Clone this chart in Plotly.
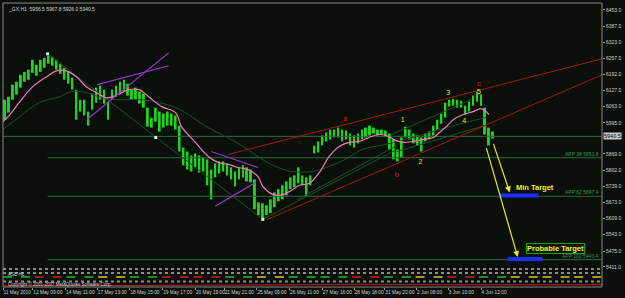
import plotly.graph_objects as go

# ---------------- data ----------------
hi = [6089, 6101, 6150, 6162, 6190, 6202, 6211, 6251, 6231, 6251, 6259, 6267, 6263, 6251, 6235, 6219,
      6202, 6178, 6130, 6089, 6089, 6041, 6114, 6138, 6146, 6130, 6081, 6130, 6146, 6162, 6170, 6154,
      6130, 6138, 6122, 6114, 6057, 6016, 6057, 6041, 6033, 6041, 6033, 6025, 5984, 5895, 5879, 5863,
      5871, 5863, 5855, 5847, 5806, 5831, 5839, 5839, 5831, 5815, 5798, 5815, 5823, 5815, 5806, 5766,
      5673, 5669, 5661, 5685, 5713, 5726, 5742, 5758, 5774, 5782, 5815, 5782, 5774, 5782, 5903, 5920,
      5944, 5956, 5968, 5968, 5976, 5968, 5964, 5952, 5944, 5952, 5968, 5976, 5984, 5976, 5968, 5968,
      5964, 5952, 5928, 5887, 5936, 5980, 5968, 5952, 5944, 5936, 5952, 5960, 5984, 6008, 6033, 6077,
      6089, 6093, 6089, 6085, 6065, 6081, 6106, 6122, 6110, 6057, 5976, 5960]
lo = [6008, 6037, 6089, 6110, 6138, 6162, 6170, 6198, 6186, 6202, 6219, 6235, 6227, 6211, 6194, 6170,
      6154, 6130, 6008, 6041, 6025, 5984, 6049, 6077, 6089, 6073, 6008, 6089, 6101, 6110, 6122, 6106,
      6089, 6089, 6073, 6057, 5980, 5976, 6000, 5960, 5976, 5984, 5984, 5968, 5879, 5823, 5806, 5798,
      5815, 5794, 5798, 5742, 5685, 5774, 5790, 5798, 5782, 5766, 5738, 5766, 5774, 5758, 5754, 5645,
      5621, 5604, 5621, 5629, 5653, 5677, 5685, 5701, 5726, 5734, 5750, 5742, 5697, 5742, 5871, 5875,
      5904, 5920, 5928, 5936, 5936, 5920, 5928, 5904, 5895, 5912, 5928, 5936, 5944, 5952, 5944, 5948,
      5940, 5887, 5847, 5839, 5855, 5936, 5928, 5912, 5904, 5879, 5920, 5928, 5944, 5968, 5992, 6017,
      6061, 6065, 6057, 6057, 6029, 6041, 6065, 6081, 6065, 5948, 5904, 5932]
bars = list(range(len(hi)))

ma_fast_x = [-1.25, 1.25, 3.75, 7, 10.5, 13, 15.5, 18, 20.5, 23, 25.5, 27, 29.5, 31.25, 33.75, 36.25,
             39.5, 43, 44.5, 48, 51.25, 53.75, 56.25, 58.75, 61.25, 63.75, 65, 67.5, 69.25, 71.75, 74.25,
             76.75, 79.25, 81.75, 84.25, 86.75, 89.25, 91.75, 94.25, 96.75, 98, 100.5, 103, 105.5, 108,
             109.5, 111.25, 113, 115.5, 118, 120, 121.25, 122]
ma_fast_y = [5988, 6029, 6081, 6142, 6182, 6206, 6206, 6182, 6142, 6118, 6097, 6101, 6118, 6130, 6130, 6101,
             6061, 6037, 5980, 5916, 5859, 5835, 5827, 5814, 5806, 5778, 5738, 5705, 5701, 5717, 5742,
             5750, 5794, 5859, 5899, 5916, 5920, 5936, 5948, 5940, 5928, 5916, 5920, 5928, 5936,
             5956, 5980, 6008, 6029, 6041, 6053, 6041, 6029]

ma_slow_x = [-0.5, 3.75, 8.75, 13.75, 16.75, 20.5, 23.75, 28, 34.5, 43, 51.25, 58.75, 63.75, 67.5, 72.5,
             77.5, 81.75, 85.75, 90, 95.75, 103.75, 111.25, 121.25]
ma_slow_y = [5968, 6021, 6078, 6101, 6122, 6118, 6101, 6089, 6089, 6057, 5976, 5912, 5859, 5823, 5798,
             5798, 5819, 5847, 5887, 5907, 5940, 5976, 6017]

# trend / channel lines: (x0, y0, x1, y1)
red_lines = [(56.25, 5867, 150.5, 6255), (66.25, 5604, 150.5, 6190)]
purple_lines = [(20.75, 6010, 41.25, 6279), (23.25, 6150, 41.25, 6227),
                (52, 5879, 63.75, 5814), (53, 5657, 63.25, 5754)]
dim_lines = [(10.75, 6275, 65, 5604), (65, 5604, 98.75, 5887), (73.75, 5685, 98.75, 5903),
             (97.5, 5948, 117.5, 6089), (98.75, 5879, 121.75, 5988)]
pivot_x = [10.75, 38, 65]
pivot_y = [6275, 5936, 5604]

last_price = 5940.5
fib_levels = [5853.8, 5697.4, 5440.4]
fib_labels = ["APP 38 5853.8", "APP 62 5697.4", "APP 100 5440.4"]

target_bars = [(124.5, 134.5, 5701), (126.75, 135.5, 5443)]
arrows = [(123, 5916, 127.25, 5713), (121.25, 5899, 129.25, 5451)]

wave_text = ["a", "b", "c", "1", "2", "3", "4", "5"]
wave_x = [85.75, 98.75, 119.5, 100.25, 104.75, 111.75, 115.75, 119.5]
wave_y = [6008, 5782, 6150, 6004, 5835, 6114, 6000, 6118]
wave_col = ["#e01010", "#e01010", "#e01010", "#e8e800", "#e8e800", "#e8e800", "#e8e800", "#e8e800"]

price_ticks = [6453.0, 6387.0, 6323.0, 6257.0, 6192.0, 6127.0, 6063.0, 5995.0, 5869.0, 5802.0,
               5739.0, 5673.0, 5609.0, 5543.0, 5475.0, 5411.0]
time_ticks = [-0.5, 7, 15.25, 23.25, 31.5, 39.75, 48, 55.25, 63.5, 71.75, 80, 88, 95.75, 103.75, 111.75, 120]
time_labels = ["11 May 2010", "12 May 09:00", "14 May 11:00", "17 May 13:00", "18 May 15:00",
               "19 May 17:00", "20 May 19:00", "21 May 21:00", "25 May 09:00", "26 May 11:00",
               "27 May 16:00", "28 May 18:00", "31 May 20:00", "2 Jun 08:00", "3 Jun 10:00", "4 Jun 12:00"]

# indicator sub-window: colour state every 8 bars
ind_state = ["#20c020", "#d02020", "#20c020", "#d0d020", "#20c020", "#d02020", "#d02020", "#20c020",
             "#d0d020", "#20c020", "#20c020", "#d02020", "#20c020", "#d0d020", "#d02020", "#20c020",
             "#d0d020", "#d0d020", "#d0d020"]
ind_red_x = [-0.5, 30, 60, 90, 110, 150.5]
ind_red_y = [1.2, 1.4, 2.0, 2.8, 2.4, 2.4]

# ---------------- figure ----------------
BG = "#0a0f0a"
DIM = "#2a6a3a"
fig = go.Figure()

fig.add_trace(go.Scatter(x=[-0.5, 150.5], y=[last_price, last_price], mode="lines",
                         line=dict(color=DIM, width=1), hoverinfo="skip", showlegend=False))
for lv in fib_levels:
    fig.add_trace(go.Scatter(x=[10.75, 150.5], y=[lv, lv], mode="lines",
                             line=dict(color=DIM, width=1), hoverinfo="skip", showlegend=False))

for (x0, y0, x1, y1) in dim_lines:
    fig.add_trace(go.Scatter(x=[x0, x1], y=[y0, y1], mode="lines",
                             line=dict(color="#1f4f2a", width=1), showlegend=False))
fig.add_trace(go.Scatter(x=ma_slow_x, y=ma_slow_y, mode="lines",
                         line=dict(color="#1f4f2a", width=1, shape="spline"), showlegend=False))

fig.add_trace(go.Bar(x=bars, y=[h - l for h, l in zip(hi, lo)], base=lo, width=0.5,
                     marker=dict(color="#1ed41e", line=dict(width=0)), showlegend=False))

fig.add_trace(go.Scatter(x=ma_fast_x, y=ma_fast_y, mode="lines",
                         line=dict(color="#f07ac0", width=1.2, shape="spline"), showlegend=False))

for (x0, y0, x1, y1) in red_lines:
    fig.add_trace(go.Scatter(x=[x0, x1], y=[y0, y1], mode="lines",
                             line=dict(color="#a01818", width=1), showlegend=False))
for (x0, y0, x1, y1) in purple_lines:
    fig.add_trace(go.Scatter(x=[x0, x1], y=[y0, y1], mode="lines",
                             line=dict(color="#9a34d0", width=1.2), showlegend=False))

fig.add_trace(go.Scatter(x=pivot_x, y=pivot_y, mode="markers",
                         marker=dict(symbol="square", size=3, color="#d8f0d8"), showlegend=False))

for (x0, x1, yv) in target_bars:
    fig.add_trace(go.Scatter(x=[x0, x1], y=[yv, yv], mode="lines",
                             line=dict(color="#1830ff", width=4), showlegend=False))

fig.add_trace(go.Scatter(x=wave_x, y=wave_y, mode="text", text=wave_text,
                         textfont=dict(color=wave_col, size=7, family="Arial Black, Liberation Sans"),
                         showlegend=False))

# indicator sub-window
for v in [18.6, 14.4, 5.8]:
    fig.add_trace(go.Scatter(x=[-0.5, 150.5], y=[v, v], mode="lines", yaxis="y2",
                             line=dict(color="#8a8a8a", width=2, dash="dot"), showlegend=False))
for k, c in enumerate(ind_state):
    fig.add_trace(go.Scatter(x=[k * 8 - 0.5, k * 8 + 7.5], y=[10.3, 10.3], mode="lines", yaxis="y2",
                             line=dict(color=c, width=1.5, dash="dash"), showlegend=False))
fig.add_trace(go.Scatter(x=ind_red_x, y=ind_red_y, mode="lines", yaxis="y2",
                         line=dict(color="#c02020", width=1), showlegend=False))

annotations = []
for (x0, y0, x1, y1) in arrows:
    annotations.append(dict(x=x1, y=y1, ax=x0, ay=y0, xref="x", yref="y", axref="x", ayref="y",
                            showarrow=True, arrowcolor="#e8e820", arrowwidth=1.2, arrowhead=2,
                            arrowsize=1, text=""))
annotations.append(dict(x=128.25, y=5734, xref="x", yref="y", text="<b>Min Target</b>", showarrow=False,
                        xanchor="left", font=dict(color="#f0f020", size=7.5, family="Liberation Sans")))
annotations.append(dict(x=138.75, y=5487, xref="x", yref="y", text="<b>Probable Target</b>", showarrow=False,
                        font=dict(color="#f0f020", size=7.5, family="Liberation Sans"),
                        bordercolor="#10a010", borderwidth=1, borderpad=0, bgcolor="#0c180c"))
for lv, lab in zip(fib_levels, fib_labels):
    annotations.append(dict(x=150.3, y=lv, xref="x", yref="y", text=lab, showarrow=False,
                            xanchor="right", yanchor="bottom", yshift=-1,
                            font=dict(color="#2e9a4a", size=5, family="Liberation Sans")))
annotations.append(dict(x=1.0, y=last_price, xref="paper", yref="y", text="5940.5", showarrow=False,
                        xanchor="left", xshift=1, bgcolor="#c8c8c8",
                        font=dict(color="#000000", size=5.5, family="Liberation Sans"), borderpad=0))
annotations.append(dict(x=0.005, y=0.995, xref="paper", yref="paper", text="_GX,H1  5956.5 5967.8 5926.0 5940.5",
                        showarrow=False, xanchor="left", yanchor="top",
                        font=dict(color="#d8d8d8", size=5, family="Liberation Sans")))
annotations.append(dict(x=0.005, y=12.5, xref="paper", yref="y2", text="ASC-HL",
                        showarrow=False, xanchor="left", yanchor="middle",
                        font=dict(color="#d8d8d8", size=4.5, family="Liberation Sans")))
annotations.append(dict(x=0.005, y=3.5, xref="paper", yref="y2",
                        text="Copyright © 2001-2007 MetaQuotes Software Corp.",
                        showarrow=False, xanchor="left", yanchor="middle",
                        font=dict(color="#d8d8d8", size=4.5, family="Liberation Sans")))

fig.update_layout(
    width=625, height=298,
    margin=dict(l=3, r=18, t=3, b=10),
    paper_bgcolor=BG, plot_bgcolor=BG,
    showlegend=False,
    barmode="overlay",
    annotations=annotations,
    xaxis=dict(range=[-0.5, 150.5], domain=[0, 1], anchor="y2", showgrid=False, zeroline=False,
               tickvals=time_ticks, ticktext=time_labels, ticklabelposition="outside right",
               tickangle=0, ticks="outside", ticklen=2, tickcolor="#a0a0a0",
               tickfont=dict(color="#d0d0d0", size=4.8, family="Liberation Sans")),
    yaxis=dict(range=[5410.4, 6481.3], domain=[0.0702, 1], anchor="x", side="right",
               showgrid=False, zeroline=False, tickvals=price_ticks,
               ticktext=["%.1f" % v for v in price_ticks],
               ticks="outside", ticklen=2, tickcolor="#a0a0a0",
               tickfont=dict(color="#d0d0d0", size=5, family="Liberation Sans")),
    yaxis2=dict(range=[0, 20], domain=[0, 0.068], anchor="x", showgrid=False, zeroline=False,
                showticklabels=False),
    shapes=[dict(type="rect", xref="paper", yref="paper", x0=0, x1=1, y0=0, y1=1,
                 line=dict(color="#8a8a8a", width=1))],
)

fig.write_html("out.html")
